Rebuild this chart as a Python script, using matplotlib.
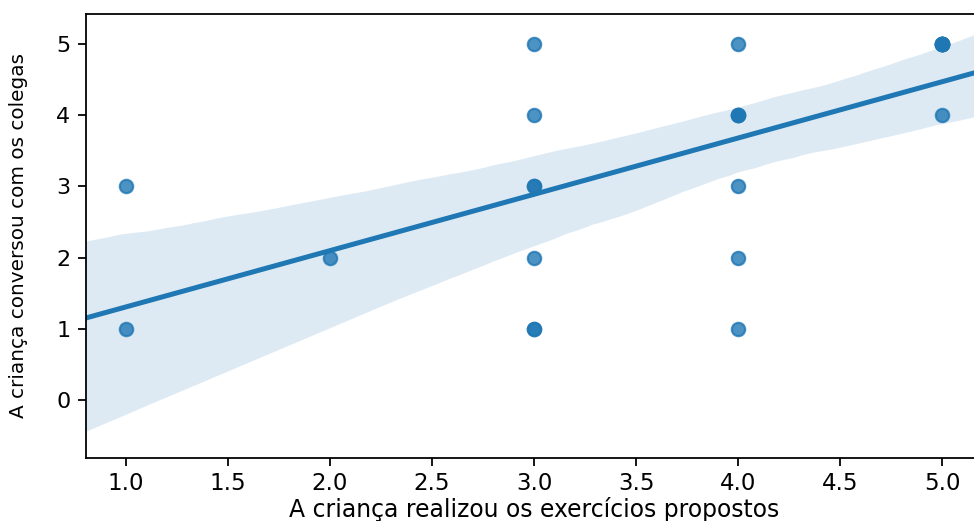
import matplotlib
matplotlib.use("Agg")
import matplotlib.pyplot as plt
import seaborn as sns
import pandas as pd

# data (duplicates drawn as darker points)
exercicios = [1, 1, 2, 3, 3, 3, 3, 3, 4, 4, 4, 4, 4, 5, 5,
              5, 5, 5, 5, 5, 4, 4, 3, 3]
conversou = [1, 3, 2, 1, 2, 3, 4, 5, 1, 2, 3, 4, 5, 4, 5,
             5, 5, 5, 5, 5, 4, 4, 1, 3]

xlabel = "A criança realizou os exercícios propostos"
ylabel = "A criança conversou com os colegas"

df = pd.DataFrame({xlabel: exercicios, ylabel: conversou})

dpi = 160
fig = plt.figure(figsize=(974 / dpi, 521 / dpi), dpi=dpi)
ax = fig.add_axes([86 / 974, 63 / 521, 897 / 974, 444 / 521])

sns.regplot(data=df, x=xlabel, y=ylabel, ax=ax, seed=7, truncate=False)

ax.set_xlim(0.804, 5.2)
ax.set_ylim(-0.81, 5.42)
ax.set_yticks([0, 1, 2, 3, 4, 5])
ax.spines["right"].set_visible(False)

ax.tick_params(axis="x", labelsize=10.3, pad=3)
ax.tick_params(axis="y", labelsize=10)
ax.set_xlabel(xlabel, fontsize=10.6)
ax.xaxis.set_label_coords(0.5, -0.088)
ax.set_ylabel(ylabel, fontsize=9)
ax.yaxis.set_label_coords(-0.065, 0.5)

fig.savefig("out.png", dpi=dpi)
